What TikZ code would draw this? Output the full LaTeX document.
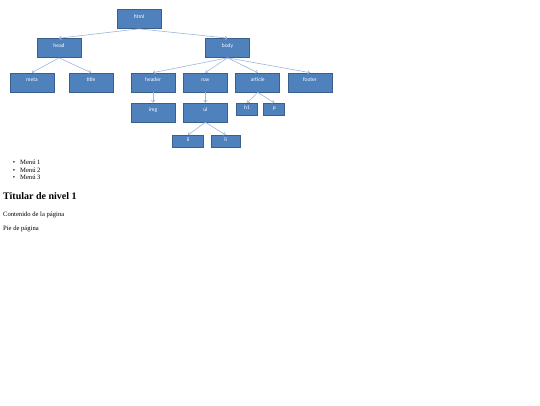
\documentclass[tikz,border=0pt]{standalone}
\usepackage{fontspec}
\setmainfont{Liberation Serif}
\newfontfamily\tagfont{Carlito}
\usetikzlibrary{arrows.meta,trees}
\definecolor{boxblue}{HTML}{4F81BD}
\definecolor{boxedge}{HTML}{3A5F8B}
\definecolor{linkblue}{HTML}{9DB5DC}
\tikzset{
  tag/.style={draw=boxedge, fill=boxblue, text=white, line width=0.7pt,
    minimum width=44pt, minimum height=19pt, inner sep=0pt,
    font=\tagfont\fontsize{5.5}{6}\selectfont, text height=3pt, text depth=5pt},
  smalltag/.style={tag, minimum width=21pt, minimum height=12.5pt, text depth=3.5pt},
  pagetext/.style={anchor=base west, inner sep=0pt, font=\fontsize{6.6}{8}\selectfont}
}
\begin{document}
\begin{tikzpicture}[x=1pt, y=1pt,
  edge from parent/.style={draw=linkblue, line width=0.6pt, -{To[length=2.6pt,width=4pt]}},
  edge from parent path={(\tikzparentnode.south) -- (\tikzchildnode.north)},
  level 1/.style={grow via three points={one child at (4.25,-29) and two children at (-80,-29) and (88.5,-29)}},
  level 2/.style={grow via three points={one child at (4,-34.5) and two children at (-22.15,-34.5) and (30.15,-34.5)}},
  level 3/.style={grow via three points={one child at (0,-30) and two children at (-13.65,-30) and (13.65,-30)}},
  level 4/.style={grow via three points={one child at (1.5,-29) and two children at (-17.25,-29) and (20.25,-29)}},
  headrow/.style={grow via three points={one child at (2.5,-34.5) and two children at (-27,-34.5) and (32,-34.5)}},
  leafrow/.style={grow via three points={one child at (3,-27) and two children at (-10.65,-27) and (16.65,-27)}}]
\useasboundingbox (0,0) rectangle (540,-405);
\node[tag] (html) at (139,-19) {html} % root
    child { node[tag] (head) {head}
                child[headrow] { node[tag] (meta) {meta} }
                child[headrow] { node[tag] (title) {title} }
    }
    child { node[tag] (body) {body}
                child { node[tag] (header) {header}
                            child { node[tag] (img) {img} }
                }
                child { node[tag] (nav) {nav}
                            child { node[tag] (ul) {ul}
                                        child { node[smalltag, minimum width=31pt, text depth=3pt] (li1) {li} }
                                        child { node[smalltag, minimum width=29pt, text depth=3pt] (li2) {li} }
                            }
                }
                child { node[tag] (article) {article}
                            child[leafrow] { node[smalltag] (h1) {h1} }
                            child[leafrow] { node[smalltag] (p) {p} }
                }
                child { node[tag] (footer) {footer} }
    };
% the page below the tree
\foreach \i/\y in {1/164,2/172,3/179.5} {
  \node[pagetext, anchor=base] (dot\i) at (14,-\y) {\textbullet};
  \node[pagetext] (menu\i) at (20,-\y) {Menú \i};
}
\node[pagetext, font=\bfseries\fontsize{10}{12}\selectfont] (titular) at (3,-199.5) {Titular de nivel 1};
\node[pagetext] (contenido) at (3,-216.5) {Contenido de la página};
\node[pagetext] (pie) at (3,-230.5) {Pie de página};
\end{tikzpicture}
\end{document}
